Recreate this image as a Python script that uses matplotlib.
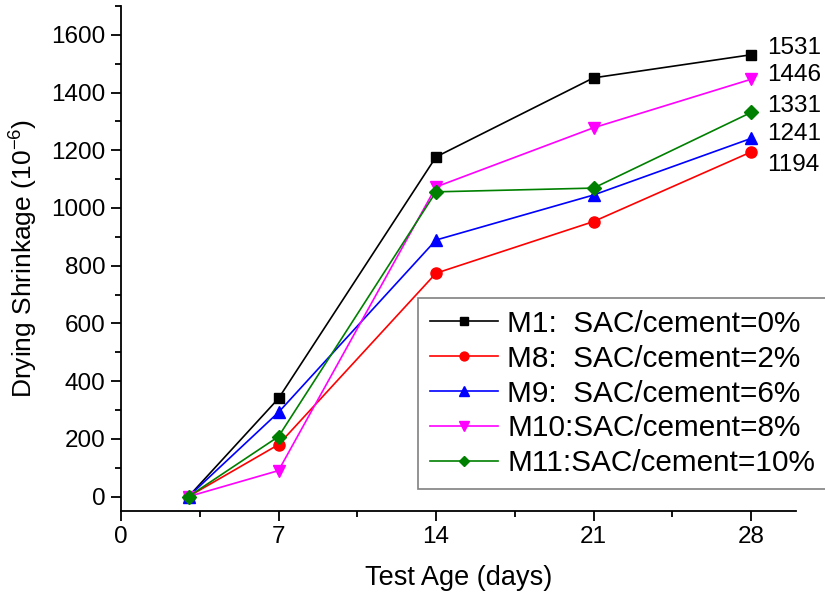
import matplotlib
matplotlib.use("Agg")
import matplotlib.pyplot as plt
from matplotlib.ticker import MultipleLocator

plt.rcParams['font.family'] = ['Liberation Sans', 'DejaVu Sans']
plt.rcParams['mathtext.fontset'] = 'custom'
plt.rcParams['mathtext.rm'] = 'Liberation Sans'
plt.rcParams['mathtext.it'] = 'Liberation Sans:italic'
plt.rcParams['mathtext.bf'] = 'Liberation Sans:bold'

days = [3, 7, 14, 21, 28]
m1 = [0, 340, 1177, 1451, 1531]
m8 = [0, 180, 774, 953, 1194]
m9 = [0, 292, 889, 1045, 1241]
m10 = [0, 90, 1073, 1278, 1446]
m11 = [0, 208, 1056, 1069, 1331]
labels = ["M1:  SAC/cement=0%", "M8:  SAC/cement=2%", "M9:  SAC/cement=6%",
          "M10:SAC/cement=8%", "M11:SAC/cement=10%"]
series = [m1, m8, m9, m10, m11]
colors = ["black", "red", "blue", "magenta", "green"]
markers = ["s", "o", "^", "v", "D"]
msizes = [7, 8, 8.5, 8.5, 7]
end_labels = ["1531", "1446", "1331", "1241", "1194"]
end_label_y = [1555, 1460, 1355, 1255, 1150]

fig = plt.figure(figsize=(8.25, 5.97), dpi=100)
ax = fig.add_axes([121/825, 1-511/597, (796-121)/825, (511-6)/597])

for s, c, mk, ms, lb in zip(series, colors, markers, msizes, labels):
    ax.plot(days, s, color=c, marker=mk, markersize=ms, linewidth=1.2, label=lb)

for t, yv in zip(end_labels, end_label_y):
    ax.text(28.7, yv, t, fontsize=17.5, va='center', ha='left')

ax.set_xlim(0, 30)
ax.set_ylim(-50, 1700)
ax.set_xticks([0, 7, 14, 21, 28])
ax.xaxis.set_minor_locator(MultipleLocator(3.5))
ax.set_yticks(range(0, 1601, 200))
ax.yaxis.set_minor_locator(MultipleLocator(100))
ax.tick_params(axis='both', which='major', direction='out', length=7, width=1.3,
               labelsize=17.5, pad=4)
ax.tick_params(axis='both', which='minor', direction='out', length=4, width=1.3)
ax.spines['top'].set_visible(False)
ax.spines['right'].set_visible(False)
for sp in ['left', 'bottom']:
    ax.spines[sp].set_linewidth(1.3)

ax.set_xlabel("Test Age (days)", fontsize=19.5, labelpad=12)
ax.set_ylabel("Drying Shrinkage (10$^{-6}$)", fontsize=19, labelpad=8)

leg = fig.legend(loc='upper left', bbox_to_anchor=(418/825, 1-298/597), borderaxespad=0,
                 fontsize=21.4, fancybox=False, edgecolor='gray', framealpha=1,
                 handlelength=2.3, labelspacing=0.23, handletextpad=0.3,
                 borderpad=0.4, markerscale=0.8)
leg.get_frame().set_linewidth(1.2)

fig.savefig("out.png", dpi=100)
